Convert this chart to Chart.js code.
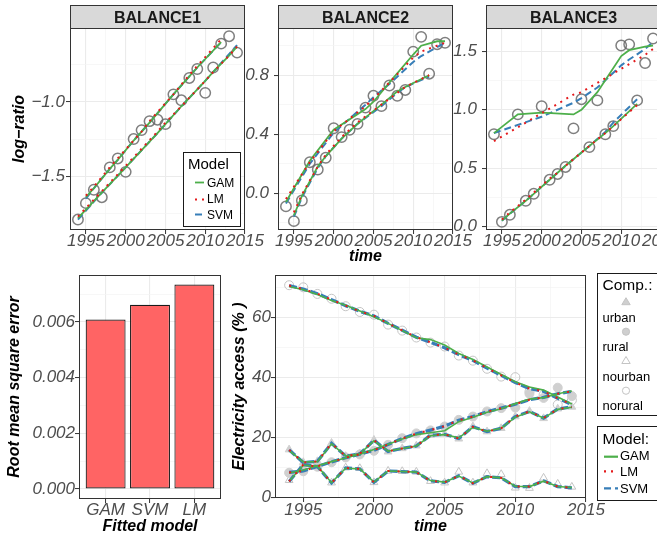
<!DOCTYPE html>
<html>
<head>
<meta charset="utf-8">
<script src="https://cdn.jsdelivr.net/npm/chart.js@4.4.1/dist/chart.umd.min.js"></script>
<style>
body { margin:0; background:#fff; overflow:hidden; width:657px; height:536px; position:relative; }
canvas { position:absolute; left:0; top:0; }
</style>
</head>
<body>
<canvas id="bal1" width="680" height="536"></canvas>
<canvas id="bal2" width="680" height="536"></canvas>
<canvas id="bal3" width="680" height="536"></canvas>
<canvas id="rmse" width="680" height="536"></canvas>
<canvas id="access" width="680" height="536"></canvas>
<script>
// ---- data ----
var yearsA = [1994, 1997, 2000, 2004, 2005, 2007, 2010, 2011, 2013, 2014];
var yearsB = [1995, 1996, 1998, 1999, 2001, 2002, 2003, 2006, 2008, 2009, 2012];

// BALANCE1
var b1ObsA = [-1.79, -1.64, -1.47, -1.12, -1.15, -0.99, -0.94, -0.77, -0.56, -0.67];
var b1ObsB = [-1.68, -1.59, -1.44, -1.38, -1.25, -1.19, -1.13, -0.95, -0.84, -0.78, -0.61];
var b1GamA = [-1.78, -1.61, -1.44, -1.21, -1.15, -1.03, -0.86, -0.80, -0.69, -0.63];
var b1LmA  = [-1.77, -1.60, -1.43, -1.20, -1.14, -1.03, -0.86, -0.80, -0.69, -0.63];
var b1SvmA = [-1.79, -1.61, -1.44, -1.21, -1.15, -1.03, -0.86, -0.80, -0.68, -0.62];
var b1GamB = [-1.64, -1.58, -1.45, -1.39, -1.26, -1.20, -1.14, -0.95, -0.83, -0.77, -0.60];
var b1LmB  = [-1.63, -1.57, -1.44, -1.38, -1.26, -1.20, -1.13, -0.95, -0.82, -0.76, -0.58];
var b1SvmB = [-1.65, -1.58, -1.45, -1.39, -1.26, -1.20, -1.14, -0.95, -0.83, -0.77, -0.60];

// BALANCE2
var b2ObsA = [-0.09, 0.21, 0.44, 0.58, 0.66, 0.73, 0.96, 1.06, 1.01, 1.02];
var b2ObsB = [-0.19, -0.05, 0.16, 0.24, 0.38, 0.43, 0.47, 0.59, 0.66, 0.70, 0.81];
var b2GamA = [-0.06, 0.22, 0.43, 0.57, 0.62, 0.75, 0.94, 1.00, 1.03, 1.03];
var b2LmA  = [-0.04, 0.21, 0.42, 0.59, 0.64, 0.75, 0.92, 0.96, 1.00, 1.02];
var b2SvmA = [-0.07, 0.20, 0.41, 0.60, 0.65, 0.74, 0.89, 0.93, 0.99, 1.02];
var b2GamB = [-0.15, -0.02, 0.18, 0.25, 0.37, 0.42, 0.47, 0.60, 0.69, 0.72, 0.80];
var b2LmB  = [-0.13, -0.01, 0.18, 0.26, 0.38, 0.43, 0.48, 0.60, 0.68, 0.72, 0.80];
var b2SvmB = [-0.16, -0.03, 0.17, 0.25, 0.37, 0.42, 0.47, 0.59, 0.68, 0.72, 0.79];

// BALANCE3
var b3ObsA = [0.79, 0.96, 1.03, 0.84, 1.09, 1.08, 1.55, 1.56, 1.40, 1.61];
var b3ObsB = [0.04, 0.10, 0.22, 0.28, 0.40, 0.45, 0.51, 0.68, 0.79, 0.86, 1.08];
var b3GamA = [0.80, 0.96, 0.975, 0.96, 1.00, 1.15, 1.46, 1.51, 1.54, 1.55];
var b3LmA  = [0.73, 0.85, 0.97, 1.13, 1.15, 1.23, 1.35, 1.39, 1.47, 1.52];
var b3SvmA = [0.80, 0.87, 0.94, 1.06, 1.10, 1.19, 1.38, 1.43, 1.52, 1.58];
var b3GamB = [0.05, 0.11, 0.22, 0.28, 0.40, 0.46, 0.52, 0.69, 0.80, 0.86, 1.05];
var b3LmB  = [0.06, 0.12, 0.23, 0.29, 0.41, 0.46, 0.52, 0.69, 0.80, 0.86, 1.04];
var b3SvmB = [0.05, 0.11, 0.22, 0.28, 0.40, 0.46, 0.52, 0.69, 0.81, 0.89, 1.09];

// RMSE bars
var fittedModels = ['GAM', 'SVM', 'LM'];
var rmseValues = [0.00609, 0.00662, 0.00735];

// electricity access
var years = [1994, 1995, 1996, 1997, 1998, 1999, 2000, 2001, 2002, 2003, 2004,
             2005, 2006, 2007, 2008, 2009, 2010, 2011, 2012, 2013, 2014];
var urbanObs   = [16.0, 11.8, 12.1, 18.2, 13.8, 14.6, 19.2, 15.3, 16.4, 17.3, 20.8, 21.2, 19.6, 23.7, 22.0, 23.1, 27.0, 28.8, 26.4, 29.6, 30.2];
var urbanFit   = [15.9, 11.7, 12.1, 18.1, 13.8, 14.6, 19.1, 15.4, 16.4, 17.2, 20.8, 21.1, 19.7, 23.6, 22.0, 23.1, 27.0, 28.7, 26.5, 29.5, 30.2];
var urbanGam   = [15.7, 11.9, 12.0, 17.9, 13.9, 14.6, 18.9, 15.5, 16.4, 17.2, 20.6, 21.0, 19.9, 23.4, 22.1, 23.1, 26.8, 28.6, 26.5, 29.4, 30.1];
var ruralObs   = [8.3, 8.8, 10.3, 11.8, 13.4, 14.4, 15.6, 17.6, 19.8, 21.4, 22.4, 23.7, 25.9, 27.0, 28.7, 29.8, 30.0, 34.6, 33.2, 36.6, 33.8];
var ruralFit   = [8.4, 8.9, 10.4, 11.9, 13.3, 14.5, 15.8, 17.7, 19.7, 21.3, 22.5, 23.8, 25.8, 27.0, 28.6, 29.8, 31.1, 32.6, 33.4, 34.6, 35.4];
var ruralGam   = [8.2, 9.2, 10.6, 12.0, 13.2, 14.5, 16.0, 17.8, 19.5, 21.0, 21.6, 22.3, 25.3, 26.8, 28.4, 29.6, 31.3, 32.8, 33.3, 34.6, 35.5];
var nourbanObs = [5.8, 11.0, 10.4, 5.0, 10.0, 9.8, 5.1, 8.9, 8.8, 8.6, 5.5, 5.0, 8.6, 5.0, 8.1, 7.8, 3.3, 3.2, 6.6, 4.6, 3.6];
var nourbanFit = [5.4, 11.0, 10.4, 4.9, 9.9, 9.6, 5.1, 8.9, 8.7, 8.5, 5.6, 5.1, 7.3, 4.8, 7.0, 6.6, 3.7, 3.7, 5.6, 3.7, 3.3];
var nourbanGam = [5.5, 10.8, 10.5, 5.0, 9.8, 9.6, 5.2, 8.9, 8.7, 8.5, 5.7, 5.2, 7.2, 4.9, 7.0, 6.6, 3.8, 3.7, 5.5, 3.7, 3.4];
var noruralObs = [70.7, 70.0, 67.8, 66.2, 63.7, 61.8, 60.9, 57.6, 55.6, 53.3, 51.6, 50.3, 47.3, 45.6, 42.9, 40.3, 40.1, 35.3, 34.2, 31.0, 32.4];
var noruralFit = [70.6, 69.4, 67.9, 65.9, 63.9, 62.0, 60.5, 58.0, 55.7, 53.4, 51.7, 49.9, 47.6, 45.7, 43.1, 40.7, 38.3, 36.3, 35.4, 33.1, 31.0];
var noruralGam = [70.3, 69.2, 67.6, 65.6, 64.0, 62.1, 60.2, 58.0, 55.6, 53.2, 52.6, 50.8, 48.0, 46.0, 43.5, 41.0, 38.6, 36.8, 35.8, 33.5, 31.2];

// tick labels
var yearTicks = [1995, 2000, 2005, 2010, 2015];
var yearMinor = [1997.5, 2002.5, 2007.5, 2012.5];
var b1Ticks = [-1.5, -1.0], b1Minor = [-1.75, -1.25, -0.75];
var b2Ticks = [0.0, 0.4, 0.8], b2Minor = [-0.2, 0.2, 0.6, 1.0];
var b3Ticks = [0.0, 0.5, 1.0, 1.5], b3Minor = [0.25, 0.75, 1.25];
var rmseTicks = [0, 0.002, 0.004, 0.006], rmseMinor = [0.001, 0.003, 0.005, 0.007];
var accessTicks = [0, 20, 40, 60], accessMinor = [10, 30, 50, 70];

// ---- styling ----
var FONT = '"Liberation Sans", Arial, Helvetica, sans-serif';
Chart.defaults.font.family = FONT;
Chart.defaults.color = '#4D4D4D';

var MODEL_STYLE = {
  GAM: { color: '#4DAF4A', dash: [], width: 1.8, order: 1 },
  LM:  { color: '#E41A1C', dash: [2, 5], width: 2, order: 0 },
  SVM: { color: '#377EB8', dash: [7, 4], width: 2, order: 2 }
};
var TICK_FONT = { size: 17, style: 'italic', lineHeight: 1 };
var TITLE_FONT = { size: 16, weight: 'bold', style: 'italic', lineHeight: 1.2 };

function pts(xs, ys) {
  return xs.map(function(x, i) { return { x: x, y: ys[i] }; });
}

function modelLine(xs, ys, model, w, dash) {
  var st = MODEL_STYLE[model];
  return { data: pts(xs, ys), borderColor: st.color, borderWidth: w || st.width,
           borderDash: dash || st.dash, pointRadius: 0, tension: 0, fill: false, order: st.order };
}

function obsPoints(xs, ys) {
  return { data: pts(xs, ys), showLine: false, pointStyle: 'circle', pointRadius: 5.2,
           pointBorderWidth: 1.5, pointBorderColor: 'rgba(105,105,105,0.85)',
           pointBackgroundColor: 'rgba(0,0,0,0)', order: 5 };
}

function tickSetter(major, minor) {
  return function(scale) {
    var t = [];
    major.forEach(function(v) { t.push({ value: v }); });
    minor.forEach(function(v) { t.push({ value: v, minor: true }); });
    t.sort(function(a, b) { return a.value - b.value; });
    scale.ticks = t;
  };
}

function gridOpts() {
  return {
    color: function(c) { return c.tick && c.tick.minor ? '#F3F3F3' : '#EBEBEB'; },
    lineWidth: function(c) { return c.tick && c.tick.minor ? 0.7 : 1.1; },
    tickColor: function(c) { return c.tick && c.tick.minor ? 'rgba(0,0,0,0)' : '#333333'; },
    tickWidth: 1,
    tickLength: 4
  };
}

function axis(o) {
  var horiz = o.pos === 'x';
  var ax = {
    type: 'linear', min: o.min, max: o.max,
    afterBuildTicks: tickSetter(o.major, o.minor),
    afterFit: function(s) {
      if (horiz) { s.height = o.size; s.paddingLeft = 0; s.paddingRight = 0; }
      else { s.width = o.size; s.paddingTop = 0; s.paddingBottom = 0; }
    },
    ticks: {
      autoSkip: false, maxRotation: 0, minRotation: 0, padding: o.pad || 0,
      font: TICK_FONT, color: '#4D4D4D',
      callback: function(v, i, ticks) { return ticks[i].minor ? '' : o.fmt(v); }
    },
    grid: gridOpts(),
    border: { display: false }
  };
  if (o.title) {
    ax.title = { display: true, text: o.title, color: '#000', font: TITLE_FONT,
                 padding: { top: o.titlePad || 0, bottom: 0 } };
  }
  return ax;
}

function yearFmt(v) { return String(v); }
function minusFmt(v) { return v.toFixed(1).replace('-', '\u2212'); }

// frames, strips and legends
var deco = {
  id: 'deco',
  afterDraw: function(chart, args, opts) {
    var ctx = chart.ctx, a = chart.chartArea;
    ctx.save();
    ctx.strokeStyle = '#333333';
    ctx.lineWidth = 1;
    ctx.strokeRect(a.left + 0.5, a.top + 0.5, a.right - a.left - 1, a.bottom - a.top - 1);
    if (opts.strip) {
      ctx.fillStyle = '#D9D9D9';
      ctx.fillRect(a.left, 5, a.right - a.left, a.top - 5);
      ctx.strokeRect(a.left + 0.5, 5.5, a.right - a.left - 1, a.top - 5);
      ctx.fillStyle = '#1A1A1A';
      ctx.font = 'bold 16px ' + FONT;
      ctx.textAlign = 'center';
      ctx.textBaseline = 'alphabetic';
      ctx.fillText(opts.strip, (a.left + a.right) / 2, 23.3);
    }
    if (opts.legend === 'top') drawTopLegend(ctx);
    if (opts.legend === 'bottom') drawBottomLegend(ctx);
    ctx.restore();
  }
};
Chart.register(deco);

function keyLine(ctx, model, x1, x2, y, w) {
  var st = MODEL_STYLE[model];
  ctx.save();
  ctx.strokeStyle = st.color;
  ctx.lineWidth = w || st.width;
  ctx.setLineDash(st.dash);
  ctx.beginPath(); ctx.moveTo(x1, y); ctx.lineTo(x2, y); ctx.stroke();
  ctx.restore();
}

function drawTopLegend(ctx) {
  ctx.fillStyle = '#fff';
  ctx.fillRect(183, 152, 58, 75);
  ctx.strokeStyle = '#1A1A1A';
  ctx.lineWidth = 1;
  ctx.strokeRect(183.5, 152.5, 57, 74);
  ctx.fillStyle = '#000';
  ctx.textAlign = 'left';
  ctx.textBaseline = 'alphabetic';
  ctx.font = '15px ' + FONT;
  ctx.fillText('Model', 188, 169.3);
  ctx.font = '12px ' + FONT;
  var names = ['GAM', 'LM', 'SVM'], ky = [182.5, 199.5, 214.5], ty = [186.7, 203.3, 219.3];
  for (var i = 0; i < names.length; i++) {
    keyLine(ctx, names[i], 195, 204, ky[i]);
    ctx.fillStyle = '#000';
    ctx.fillText(names[i], 207, ty[i]);
  }
}

function drawBottomLegend(ctx) {
  ctx.fillStyle = '#fff';
  ctx.fillRect(597, 273, 100, 142);
  ctx.fillRect(597, 426, 100, 74);
  ctx.strokeStyle = '#1A1A1A';
  ctx.lineWidth = 1;
  ctx.strokeRect(597.5, 273.5, 100, 142);
  ctx.strokeRect(597.5, 426.5, 100, 74);
  ctx.fillStyle = '#000';
  ctx.textAlign = 'left';
  ctx.textBaseline = 'alphabetic';
  ctx.font = '15.5px ' + FONT;
  ctx.fillText('Comp.:', 602.5, 289.5);
  ctx.fillText('Model:', 602.5, 444.3);
  ctx.font = '13px ' + FONT;
  var comps = ['urban', 'rural', 'nourban', 'norural'];
  var ky = [301.7, 331.7, 360.5, 390.7], ty = [321.7, 350.7, 380.7, 410];
  for (var i = 0; i < comps.length; i++) {
    var tri = (i % 2 === 0);
    var filled = i < 2;
    ctx.fillStyle = '#CFCFCF';
    ctx.strokeStyle = '#C4C4C4';
    ctx.lineWidth = 1;
    ctx.beginPath();
    if (!tri) { ctx.arc(626, ky[i], 3.6, 0, Math.PI * 2); }
    else { ctx.moveTo(626, ky[i] - 4); ctx.lineTo(630.2, ky[i] + 3); ctx.lineTo(621.8, ky[i] + 3); ctx.closePath(); }
    if (filled) ctx.fill();
    ctx.stroke();
    ctx.fillStyle = '#000';
    ctx.fillText(comps[i], 602.5, ty[i]);
  }
  var names = ['GAM', 'LM', 'SVM'], my = [456.7, 471.3, 488.3], mt = [460, 476, 493.3];
  for (var j = 0; j < names.length; j++) {
    keyLine(ctx, names[j], 604, 618, my[j], 2.2);
    ctx.fillStyle = '#000';
    ctx.fillText(names[j], 620, mt[j]);
  }
}

function baseOptions(padding, scales, decoOpts) {
  return {
    responsive: false, animation: false, events: [],
    layout: { padding: padding, autoPadding: false },
    plugins: { legend: { display: false }, tooltip: { enabled: false }, deco: decoOpts },
    scales: scales
  };
}

function balanceChart(id, strip, leftPad, rightPad, yMin, yMax, yMaj, yMin2, fmt, ypad, sets, extra) {
  var yAx = axis({ pos: 'y', min: yMin, max: yMax, major: yMaj, minor: yMin2, fmt: fmt, size: 70, pad: ypad,
                   title: extra.ytitle, titlePad: 10.4 });
  var xAx = axis({ pos: 'x', min: 1993, max: 2015, major: yearTicks, minor: yearMinor, fmt: yearFmt, size: 36,
                   pad: -1, title: extra.xtitle, titlePad: 0 });
  var data = { datasets: [
    modelLine(yearsA, sets.gamA, 'GAM'), modelLine(yearsA, sets.lmA, 'LM'), modelLine(yearsA, sets.svmA, 'SVM'),
    modelLine(yearsB, sets.gamB, 'GAM'), modelLine(yearsB, sets.lmB, 'LM'), modelLine(yearsB, sets.svmB, 'SVM'),
    obsPoints(yearsA, sets.obsA), obsPoints(yearsB, sets.obsB)
  ] };
  return new Chart(document.getElementById(id), {
    type: 'line', data: data,
    options: baseOptions({ left: leftPad, top: 28, right: rightPad, bottom: 270 },
                         { x: xAx, y: yAx }, { strip: strip, legend: extra.legend })
  });
}

balanceChart('bal1', 'BALANCE1', 0, 435, -1.86, -0.505, b1Ticks, b1Minor, minusFmt, 1,
  { obsA: b1ObsA, obsB: b1ObsB, gamA: b1GamA, lmA: b1LmA, svmA: b1SvmA, gamB: b1GamB, lmB: b1LmB, svmB: b1SvmB },
  { ytitle: 'log\u2212ratio', legend: 'top' });
balanceChart('bal2', 'BALANCE2', 208, 227, -0.25, 1.12, b2Ticks, b2Minor, function(v) { return v.toFixed(1); }, 5,
  { obsA: b2ObsA, obsB: b2ObsB, gamA: b2GamA, lmA: b2LmA, svmA: b2SvmA, gamB: b2GamB, lmB: b2LmB, svmB: b2SvmB },
  { xtitle: 'time' });
balanceChart('bal3', 'BALANCE3', 416, 19, -0.03, 1.70, b3Ticks, b3Minor, function(v) { return v.toFixed(1); }, 5,
  { obsA: b3ObsA, obsB: b3ObsB, gamA: b3GamA, lmA: b3LmA, svmA: b3SvmA, gamB: b3GamB, lmB: b3LmB, svmB: b3SvmB },
  {});

// RMSE bar chart
var rmseX = axis({ pos: 'x', min: 0.4, max: 3.6, major: [1, 2, 3], minor: [], size: 37, pad: -1,
                   fmt: function(v) { return fittedModels[v - 1]; }, title: 'Fitted model', titlePad: 0 });
rmseX.offset = false;
rmseX.grid.offset = false;
var rmseY = axis({ pos: 'y', min: -0.00036, max: 0.00769, major: rmseTicks, minor: rmseMinor, size: 79,
                   fmt: function(v) { return v.toFixed(3); }, title: 'Root mean square error', titlePad: 5.4 });
new Chart(document.getElementById('rmse'), {
  type: 'bar',
  data: { datasets: [{
    data: fittedModels.map(function(m, i) { return { x: i + 1, y: rmseValues[i] }; }),
    backgroundColor: '#FF6464', borderColor: '#1A1A1A', borderWidth: 1.2, borderSkipped: false,
    barPercentage: 0.9, categoryPercentage: 1.0
  }] },
  options: baseOptions({ left: 0, top: 275, right: 459, bottom: 0 }, { x: rmseX, y: rmseY }, {})
});

// electricity access chart
function compPoints(ys, shape, filled) {
  return { data: pts(years, ys), showLine: false, pointStyle: shape, pointRadius: 4.5,
           pointBorderWidth: 1, pointBorderColor: filled ? '#D0D0D0' : '#C4C4C4',
           pointBackgroundColor: filled ? '#D0D0D0' : 'rgba(0,0,0,0)', order: 5 };
}
var accessSets = [];
[[urbanGam, urbanFit], [ruralGam, ruralFit], [nourbanGam, nourbanFit], [noruralGam, noruralFit]].forEach(function(p) {
  accessSets.push(modelLine(years, p[0], 'GAM', 1.6));
  accessSets.push(modelLine(years, p[1], 'LM', 2, [2, 8]));
  accessSets.push(modelLine(years, p[1], 'SVM', 3.2, [8, 3]));
});
accessSets.push(compPoints(urbanObs, 'triangle', true));
accessSets.push(compPoints(ruralObs, 'circle', true));
accessSets.push(compPoints(nourbanObs, 'triangle', false));
accessSets.push(compPoints(noruralObs, 'circle', false));

var accX = axis({ pos: 'x', min: 1993, max: 2015, major: yearTicks, minor: yearMinor, fmt: yearFmt, size: 38,
                  title: 'time', titlePad: 0 });
var accY = axis({ pos: 'y', min: -0.1, max: 74.1, major: accessTicks, minor: accessMinor, size: 47,
                  fmt: function(v) { return String(v); }, title: 'Electricity access (% )', titlePad: 1.5 });
new Chart(document.getElementById('access'), {
  type: 'line',
  data: { datasets: accessSets },
  options: baseOptions({ left: 228, top: 275, right: 94, bottom: 0 }, { x: accX, y: accY }, { legend: 'bottom' })
});
</script>
</body>
</html>
